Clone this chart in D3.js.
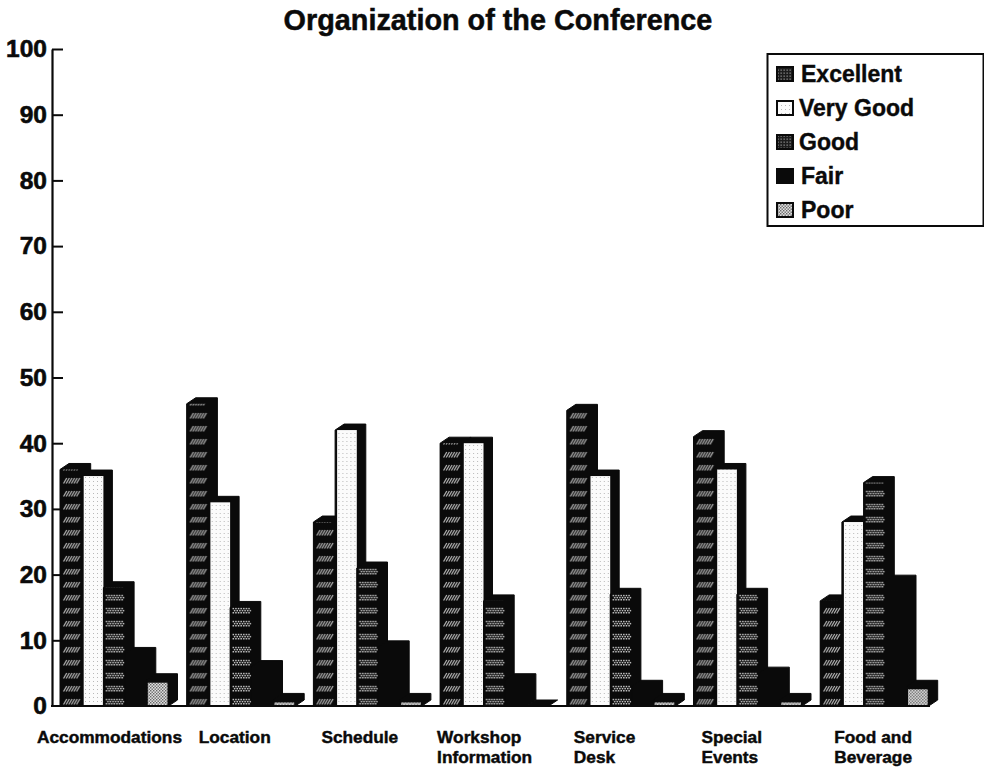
<!DOCTYPE html>
<html><head><meta charset="utf-8">
<script src="https://cdn.jsdelivr.net/npm/d3@7/dist/d3.min.js"></script>
<style>html,body{margin:0;padding:0;background:#fff}svg{display:block}
text{font-family:"Liberation Sans",Arial,sans-serif;font-weight:700;fill:#0a0a0a;stroke:#0a0a0a}</style>
</head><body><div id="c"></div>
<script>
const title = "Organization of the Conference";
const categories = ["Accommodations","Location","Schedule","Workshop|Information","Service|Desk","Special|Events","Food and|Beverage"];
const series = ["Excellent","Very Good","Good","Fair","Poor"];
const excellent = [36,46,28,40,45,41,16];
const veryGood  = [35,31,42,40,35,36,28];
const good      = [18,15,21,16,17,17,34];
const fair      = [8,6,9,4,3,5,19];
const poor      = [4,1,1,0,1,1,3];
const yTicks = [0,10,20,30,40,50,60,70,80,90,100];
const seriesValues = [excellent,veryGood,good,fair,poor];
const labelOffsets = [-23,12,8,-3,7,8,14];

const W=984,H=769,DX=9,DY=6,INK="#0a0a0a";
const svg=d3.select("#c").append("svg").attr("width",W).attr("height",H);
const defs=svg.append("defs");

const x0=d3.scaleBand().domain(categories).range([60,60+126.7*7]);
const x1=d3.scaleBand().domain(series).range([0,108.5]);
const y=d3.scaleLinear().domain([0,100]).range([706,49]);
const bw=x1.bandwidth();

function pat(id,w,h,bg,xo,yo,draw){
  const p=defs.append("pattern").attr("id",id).attr("patternUnits","userSpaceOnUse").attr("width",w).attr("height",h).attr("x",xo).attr("y",yo);
  p.append("rect").attr("width",w).attr("height",h).attr("fill",bg);
  draw(p);
}
pat("pExc",bw,13,INK,x1("Excellent"),3,p=>{
  for(const x of d3.range(3.5,18,2.6)) p.append("path").attr("d",`M${x} 12.5L${x+3.2} 7`).attr("stroke","#b0b0b0").attr("stroke-width",1.25);
});
pat("pVG",4,4,"#fbfbfb",0,0,p=>{
  p.append("rect").attr("x",1).attr("y",1).attr("width",1).attr("height",1).attr("fill","#b8b8b8");
});
pat("pGood",bw,13,INK,x1("Good"),3,p=>{
  for(const x of d3.range(2.5,20,2.6)) for(const k of [0,1,2]) p.append("rect").attr("x",x+(k%2)*1.3).attr("y",6.8+k*2.1).attr("width",1.5).attr("height",1.5).attr("fill","#c4c4c4");
});
pat("pPoor",3,3,"#e0e0e0",0,0,p=>{
  p.append("rect").attr("width",1.4).attr("height",1.4).attr("fill","#666");
  p.append("rect").attr("x",1.5).attr("y",1.5).attr("width",1.4).attr("height",1.4).attr("fill","#666");
});
pat("pSw",3,3,"#1c1c1c",0,0,p=>{
  p.append("rect").attr("x",0.5).attr("y",0.5).attr("width",1.3).attr("height",1.3).attr("fill","#8a8a8a");
});
const fills=["url(#pExc)","url(#pVG)","url(#pGood)",INK,"url(#pPoor)"];
const swatches=["url(#pSw)","url(#pVG)","url(#pSw)",INK,"url(#pPoor)"];

svg.append("text").attr("x",498).attr("y",30).attr("text-anchor","middle").attr("font-size",28.8).attr("stroke-width",0.5).text(title);

svg.selectAll("g.cat").data(categories).join("g").attr("class","cat")
  .attr("transform",d=>`translate(${x0(d)},0)`)
  .each(function(cat,ci){
    const g=d3.select(this);
    series.forEach((s,si)=>{
      const v=seriesValues[si][ci];
      const l=x1(s), r=l+bw, t=y(v), b=y(0);
      g.append("path").attr("fill",INK).attr("stroke",INK).attr("stroke-width",1)
        .attr("d",`M${l} ${b}L${l} ${t}L${l+DX} ${t-DY}L${r+DX} ${t-DY}L${r+DX} ${b-DY}L${r} ${b}Z`);
      if(si===1) g.append("rect").attr("x",l+2).attr("y",t).attr("width",bw-2).attr("height",b-t).attr("fill",fills[si]);
      if(si===0||si===2) g.append("rect").attr("x",l).attr("y",t).attr("width",bw).attr("height",b-t).attr("fill",fills[si]);
      if(si===4&&v>0) g.append("rect").attr("x",l+1).attr("y",t+3).attr("width",bw-2).attr("height",Math.max(0,b-t-4)).attr("fill",fills[si]);
    });
  });

const axis=d3.axisLeft(y).tickValues(yTicks).tickSize(0).tickPadding(5);
const gy=svg.append("g").attr("transform","translate(52,0)").call(axis);
gy.select(".domain").attr("stroke",INK).attr("stroke-width",2.2);
gy.selectAll("text").attr("font-size",24.5).attr("stroke-width",0.6).attr("font-family",null);
gy.selectAll(".tick").append("line").attr("x1",0).attr("x2",d=>d===0?0:11).attr("stroke",INK).attr("stroke-width",2);
svg.append("line").attr("x1",51).attr("x2",930).attr("y1",y(0)).attr("y2",y(0)).attr("stroke",INK).attr("stroke-width",2);

categories.forEach((c,i)=>{
  const t=svg.append("text").attr("font-size",17.3).attr("stroke-width",0.45);
  c.split("|").forEach((ln,k)=>t.append("tspan").attr("x",x0(c)+labelOffsets[i]).attr("y",743+k*20).text(ln));
});

const lg=svg.append("g");
lg.append("rect").attr("x",767.5).attr("y",54).attr("width",216).attr("height",172).attr("fill","#fff").attr("stroke",INK).attr("stroke-width",2);
const ly=d3.scalePoint().domain(series).range([74,210]);
series.forEach((s,i)=>{
  lg.append("rect").attr("x",777).attr("y",ly(s)-7).attr("width",16).attr("height",14).attr("fill",swatches[i]).attr("stroke",INK).attr("stroke-width",2);
  lg.append("text").attr("x",s==="Excellent"||s==="Fair"||s==="Poor"?801:799).attr("y",ly(s)+8).attr("font-size",23).attr("stroke-width",0.4).text(s);
});
</script></body></html>
